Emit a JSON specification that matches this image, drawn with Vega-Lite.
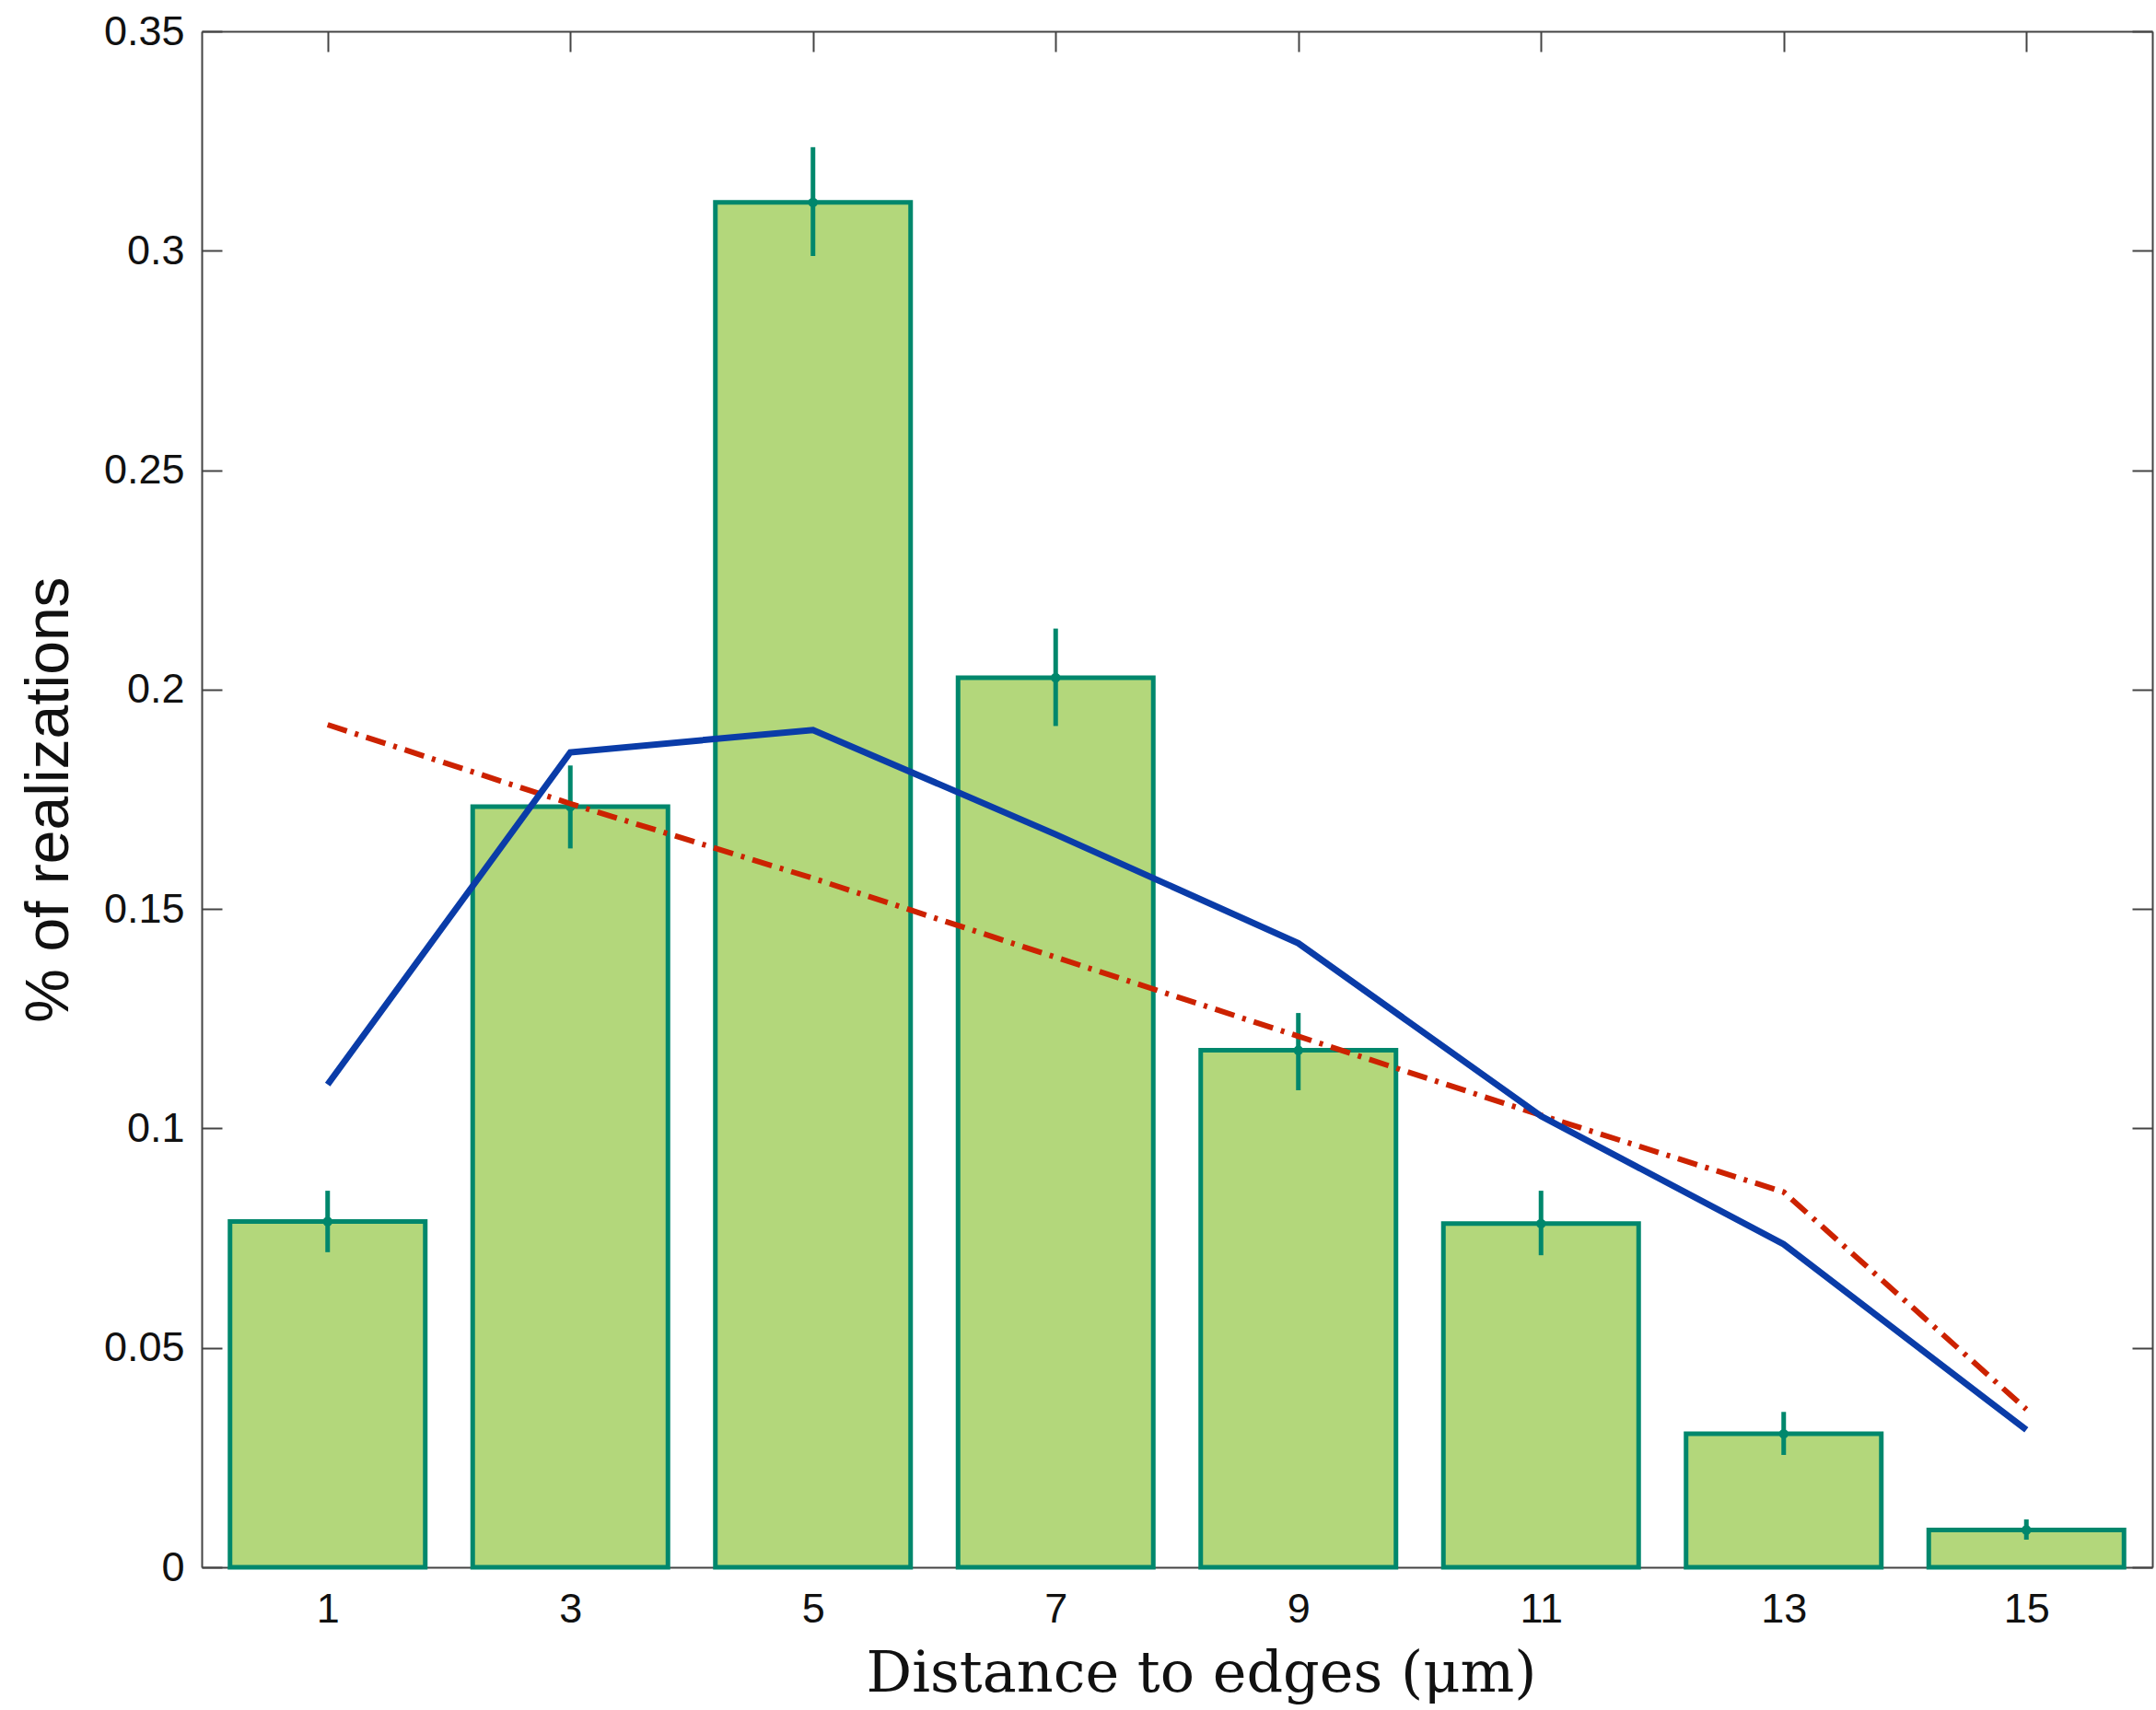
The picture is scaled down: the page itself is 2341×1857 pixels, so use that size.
{
  "$schema": "https://vega.github.io/schema/vega-lite/v6.json",
  "width": 2118,
  "height": 1668,
  "autosize": {"type": "none"},
  "padding": {"left": 219, "top": 34, "right": 4, "bottom": 155},
  "background": "white",
  "config": {
    "view": {"stroke": null},
    "axis": {
      "domainColor": "#444444",
      "domainWidth": 2,
      "tickColor": "#444444",
      "tickWidth": 2,
      "tickSize": -22,
      "grid": false,
      "labelFont": "Liberation Sans",
      "labelFontSize": 45,
      "labelColor": "#111111",
      "titleColor": "#111111",
      "titleFontWeight": "normal"
    }
  },
  "data": {
    "values": [
      {"d": 1, "pct": 0.0788, "lo": 0.0718, "hi": 0.0858, "blue": 0.110, "red": 0.192},
      {"d": 3, "pct": 0.1733, "lo": 0.1638, "hi": 0.1827, "blue": 0.1857, "red": 0.174},
      {"d": 5, "pct": 0.311, "lo": 0.2988, "hi": 0.3236, "blue": 0.1908, "red": 0.157},
      {"d": 7, "pct": 0.2027, "lo": 0.1917, "hi": 0.2139, "blue": 0.167, "red": 0.139},
      {"d": 9, "pct": 0.1178, "lo": 0.1087, "hi": 0.1263, "blue": 0.1422, "red": 0.121},
      {"d": 11, "pct": 0.0783, "lo": 0.0711, "hi": 0.0858, "blue": 0.1028, "red": 0.103},
      {"d": 13, "pct": 0.0304, "lo": 0.0256, "hi": 0.0354, "blue": 0.0736, "red": 0.0855},
      {"d": 15, "pct": 0.0085, "lo": 0.0063, "hi": 0.0109, "blue": 0.0313, "red": 0.036}
    ]
  },
  "resolve": {"axis": {"x": "independent", "y": "independent"}},
  "layer": [
    {
      "mark": {"type": "bar", "size": 212, "fill": "#b3d77b", "stroke": "#00876c", "strokeWidth": 5},
      "encoding": {
        "x": {
          "field": "d", "type": "quantitative",
          "scale": {"domain": [0, 16], "nice": false, "zero": false},
          "axis": {
            "orient": "bottom",
            "values": [1, 3, 5, 7, 9, 11, 13, 15],
            "labelPadding": 45,
            "title": "Distance to edges (μm)",
            "titleFont": "DejaVu Serif",
            "titleFontSize": 62,
            "titleBaseline": "alphabetic",
            "titleAlign": "center",
            "titleX": 1085,
            "titleY": 134
          }
        },
        "y": {
          "field": "pct", "type": "quantitative",
          "scale": {"domain": [0, 0.35], "nice": false},
          "axis": {
            "orient": "left",
            "values": [0, 0.05, 0.1, 0.15, 0.2, 0.25, 0.3, 0.35],
            "format": "~g",
            "labelPadding": 41,
            "title": "% of realizations",
            "titleFont": "Liberation Sans",
            "titleFontSize": 66,
            "titleBaseline": "alphabetic",
            "titleAngle": -90,
            "titleAlign": "center",
            "titleX": -146,
            "titleY": 834
          }
        }
      }
    },
    {
      "mark": {"type": "rule", "stroke": "#00876c", "strokeWidth": 5},
      "encoding": {
        "x": {"field": "d", "type": "quantitative", "axis": null},
        "y": {"field": "lo", "type": "quantitative", "axis": null},
        "y2": {"field": "hi"}
      }
    },
    {
      "mark": {"type": "point", "shape": "circle", "filled": true, "color": "#00876c", "size": 110, "opacity": 1},
      "encoding": {
        "x": {"field": "d", "type": "quantitative", "axis": null},
        "y": {"field": "pct", "type": "quantitative", "axis": null}
      }
    },
    {
      "mark": {"type": "line", "stroke": "#cc2200", "strokeWidth": 6, "strokeDash": [22, 9, 4, 9]},
      "encoding": {
        "x": {
          "field": "d", "type": "quantitative",
          "axis": {"orient": "top", "values": [1, 3, 5, 7, 9, 11, 13, 15], "labels": false, "title": null}
        },
        "y": {
          "field": "red", "type": "quantitative",
          "axis": {"orient": "right", "values": [0, 0.05, 0.1, 0.15, 0.2, 0.25, 0.3, 0.35], "labels": false, "title": null}
        }
      }
    },
    {
      "mark": {"type": "line", "stroke": "#0a3ca8", "strokeWidth": 7},
      "encoding": {
        "x": {"field": "d", "type": "quantitative", "axis": null},
        "y": {"field": "blue", "type": "quantitative", "axis": null}
      }
    }
  ]
}
